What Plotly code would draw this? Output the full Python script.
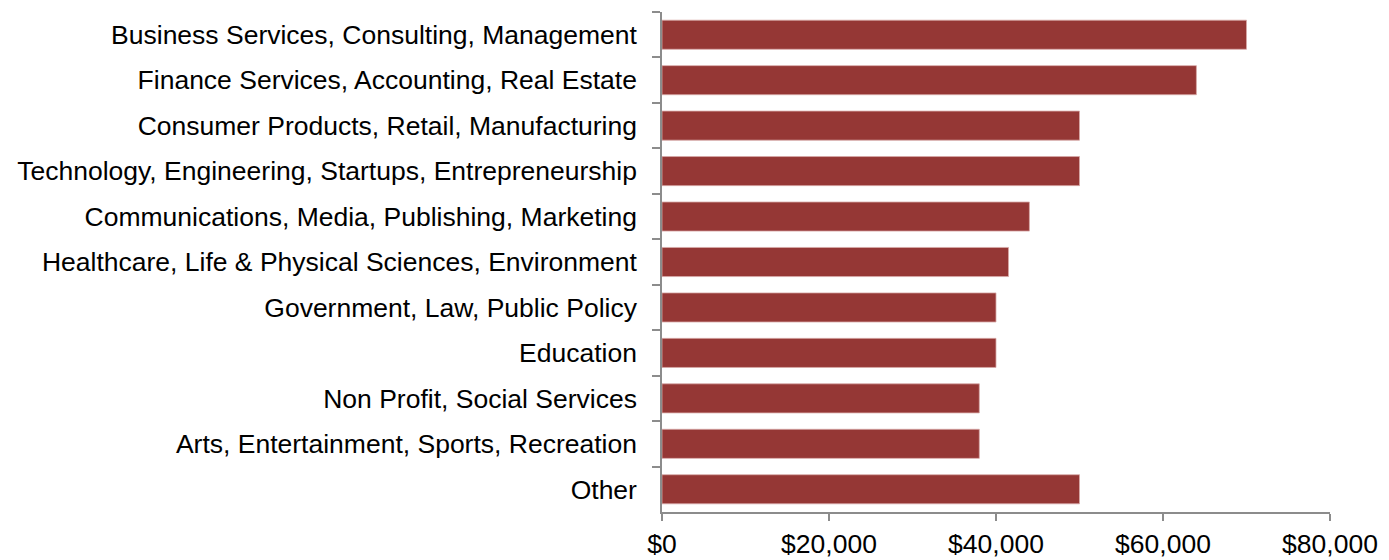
import plotly.graph_objects as go

categories = [
    "Business Services, Consulting, Management",
    "Finance Services, Accounting, Real Estate",
    "Consumer Products, Retail, Manufacturing",
    "Technology, Engineering, Startups, Entrepreneurship",
    "Communications, Media, Publishing, Marketing",
    "Healthcare, Life & Physical Sciences, Environment",
    "Government, Law, Public Policy",
    "Education",
    "Non Profit, Social Services",
    "Arts, Entertainment, Sports, Recreation",
    "Other",
]
salaries = [70000, 64000, 50000, 50000, 44000, 41500, 40000, 40000, 38000, 38000, 50000]
tick_values = [0, 20000, 40000, 60000, 80000]
tick_labels = ["$0", "$20,000", "$40,000", "$60,000", "$80,000"]

fig = go.Figure(
    go.Bar(
        y=categories,
        x=salaries,
        orientation="h",
        width=0.64,
        marker=dict(color="#953735", line=dict(color="#d8a9a8", width=0.8)),
    )
)

axis_font = dict(family="Liberation Sans, Arial, sans-serif", size=26.5, color="#000000")

fig.update_layout(
    width=1389,
    height=560,
    margin=dict(l=662, r=59, t=12, b=48),
    paper_bgcolor="white",
    plot_bgcolor="white",
    showlegend=False,
)
fig.update_xaxes(
    range=[0, 80000],
    tickvals=tick_values,
    ticktext=tick_labels,
    showgrid=False,
    zeroline=False,
    showline=True,
    linecolor="#8c8c8c",
    linewidth=1.5,
    ticks="outside",
    ticklen=7,
    tickcolor="#8c8c8c",
    tickwidth=1.5,
    tickfont=axis_font,
    automargin=False,
)
fig.update_yaxes(
    categoryorder="array",
    categoryarray=categories,
    autorange="reversed",
    showgrid=False,
    showline=True,
    linecolor="#8c8c8c",
    linewidth=1.5,
    ticks="outside",
    tickson="boundaries",
    ticklen=8,
    tickcolor="#8c8c8c",
    tickwidth=1.5,
    tickfont=axis_font,
    ticklabelstandoff=18,
    automargin=False,
)

fig.write_html(
    "out.html",
    config={"displayModeBar": False},
    post_script="document.body.style.margin='0';document.body.style.overflow='hidden';",
)
